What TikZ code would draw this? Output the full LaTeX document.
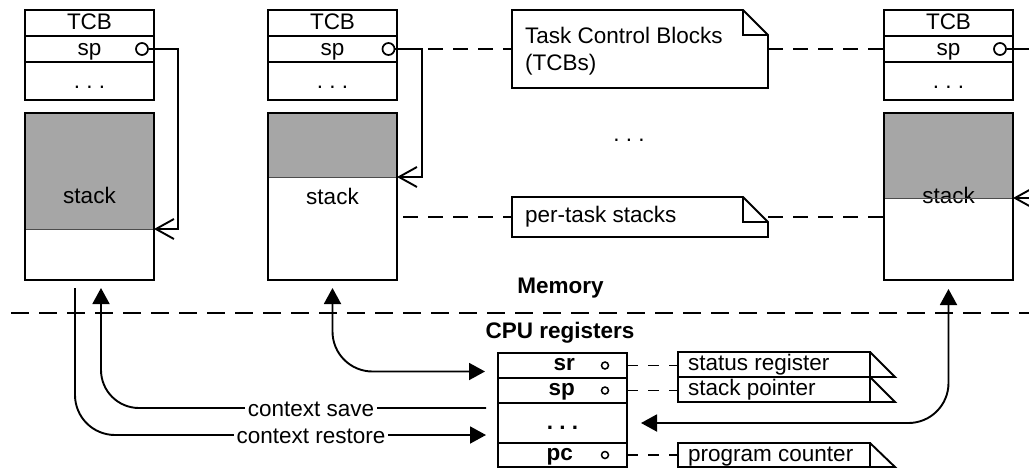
\documentclass[tikz,border=0pt]{standalone}
\usepackage{fontspec}
\setmainfont{Liberation Sans}
\usetikzlibrary{arrows.meta,calc}
\definecolor{stackgray}{HTML}{A6A6A6}
\tikzset{fattri/.tip={Triangle[length=16pt,width=17pt]}}
\begin{document}
\begin{tikzpicture}[x=1pt,y=-1pt,
  every node/.style={font=\fontsize{22.5}{27}\selectfont},
  lw/.style={line width=1.9pt},
  row/.style={draw, line width=1.9pt, minimum width=129pt, inner sep=0pt, outer sep=0pt,
    anchor=north west, text height=17pt, text depth=3pt},
  stackbox/.style={minimum width=129pt, minimum height=167pt, inner sep=0pt, outer sep=0pt, anchor=north west},
  regrow/.style={draw, line width=1.9pt, minimum width=129pt, inner sep=0pt, outer sep=0pt, anchor=north west},
  spcirc/.style={circle, draw, line width=1.7pt, fill=white, minimum size=12pt, inner sep=0pt},
  regcirc/.style={circle, draw, line width=1.5pt, fill=white, minimum size=7pt, inner sep=0pt},
  barb/.style={lw, -{Straight Barb[length=18pt,width=20pt]}},
  longdash/.style={line width=1.9pt, dash pattern=on 15pt off 10pt},
  divider/.style={line width=1.9pt, dash pattern=on 18pt off 10pt},
  regdash/.style={line width=1.9pt, dash pattern=on 11pt off 10pt},
  lbl/.style={fill=white, inner xsep=3pt, inner ysep=1pt, anchor=base},
  bold/.style={font=\fontsize{22.5}{27}\selectfont\bfseries},
]
\useasboundingbox (0,0) rectangle (1029,471);

% ---------- left task ----------
\node[row, minimum height=26pt] (lT) at (25,10) {TCB};
\node[row, minimum height=26pt] (lsp) at (25,36) {sp};
\node[row, minimum height=38pt] (ld) at (25,62) {.\ .\ .};
\node[stackbox] (lstack) at (25,113) {};
\fill[stackgray] (lstack.north west) rectangle ($(lstack.north east)+(0,116)$);
\draw[line width=0.8pt, gray!60!black] ($(lstack.north west)+(0,116)$) -- ($(lstack.north east)+(0,116)$);
\draw[lw] (lstack.north west) rectangle (lstack.south east);
\node[anchor=base] at ($(lstack.north)+(0,90)$) {stack};
\node[spcirc] (lc) at (142,49) {};
\coordinate (lsb) at ($(lstack.north east)+(0,116)$);
\draw[barb] (lc.east) -- ++(29.5,0) |- (lsb);

% ---------- middle task ----------
\node[row, minimum height=26pt] (mT) at (268,10) {TCB};
\node[row, minimum height=26pt] (msp) at (268,36) {sp};
\node[row, minimum height=38pt] (md) at (268,62) {.\ .\ .};
\node[stackbox] (mstack) at (268,113) {};
\fill[stackgray] (mstack.north west) rectangle ($(mstack.north east)+(0,64)$);
\draw[line width=0.8pt, gray!60!black] ($(mstack.north west)+(0,64)$) -- ($(mstack.north east)+(0,64)$);
\draw[lw] (mstack.north west) rectangle (mstack.south east);
\node[anchor=base] at ($(mstack.north)+(0,91)$) {stack};
\node[spcirc] (mc) at (388.5,49) {};
\coordinate (msb) at ($(mstack.north east)+(0,64)$);
\draw[barb] (mc.east) -- ++(27,0) |- (msb);

% ---------- right task ----------
\node[row, minimum height=26pt] (rT) at (884,10) {TCB};
\node[row, minimum height=26pt] (rsp) at (884,36) {sp};
\node[row, minimum height=38pt] (rd) at (884,62) {.\ .\ .};
\node[stackbox] (rstack) at (884,113) {};
\fill[stackgray] (rstack.north west) rectangle ($(rstack.north east)+(0,85)$);
\node[anchor=base] at ($(rstack.north)+(0,90)$) {stack};
\draw[line width=0.8pt, gray!60!black] ($(rstack.north west)+(0,85)$) -- ($(rstack.north east)+(0,85)$);
\draw[lw] (rstack.north west) rectangle (rstack.south east);
\node[spcirc] (rc) at (1000,49) {};
\coordinate (rsb) at ($(rstack.north east)+(0,85)$);
\draw[barb] (rc.east) -- ++(34,0) |- (rsb);

% ---------- notes ----------
\node[minimum width=256pt, minimum height=78pt, inner sep=0pt, outer sep=0pt, anchor=north west] (n1) at (512,10) {};
\draw[lw, line join=miter] (n1.north west) -- ($(n1.north west)+(231,0)$) -- ($(n1.north east)+(0,25)$) -- (n1.south east) -- (n1.south west) -- cycle;
\draw[lw] ($(n1.north west)+(231,0)$) |- ($(n1.north east)+(0,25)$);
\node[anchor=base west, inner sep=0pt] at ($(n1.north west)+(13,33)$) {Task Control Blocks};
\node[anchor=base west, inner sep=0pt] at ($(n1.north west)+(13,60)$) {(TCBs)};

\node[minimum width=256pt, minimum height=40pt, inner sep=0pt, outer sep=0pt, anchor=north west] (n2) at (512,197) {};
\draw[lw, line join=miter] (n2.north west) -- ($(n2.north west)+(231,0)$) -- ($(n2.north east)+(0,25)$) -- (n2.south east) -- (n2.south west) -- cycle;
\draw[lw] ($(n2.north west)+(231,0)$) |- ($(n2.north east)+(0,25)$);
\node[anchor=base west, inner sep=0pt] at ($(n2.north west)+(13,25)$) {per-task stacks};

\draw[longdash] ($(mc.east)+(33,0)$) -- (n1.west);
\draw[longdash] (n1.east) -- (rsp.west);
\draw[longdash] ($(mstack.east |- n2.west)+(6,0)$) -- (n2.west);
\draw[longdash] (n2.east) -- (n2.east -| rstack.west);

\node at (629,140) {.\ .\ .};

% ---------- divider ----------
\node[anchor=base, bold] at (560.5,293) {Memory};
\draw[divider] (11,313) -- (1029,313);
\node[anchor=base, bold] at (560,338) {CPU registers};

% ---------- registers ----------
\node[regrow, minimum height=25pt] (rsr) at (498,353) {};
\node[regrow, minimum height=25pt] (rspr) at (498,378) {};
\node[regrow, minimum height=40pt] (rdots) at (498,403) {};
\node[regrow, minimum height=24pt] (rpc) at (498,443) {};
\node[anchor=base east, inner sep=0pt, bold] at ($(rsr.west)+(77,5)$) {sr};
\node[anchor=base east, inner sep=0pt, bold] at ($(rspr.west)+(77,5)$) {sp};
\node[anchor=base east, inner sep=0pt, bold] at ($(rpc.west)+(75,5)$) {pc};
\node[anchor=base, inner sep=0pt, bold] at ($(rdots.center)+(0,6)$) {.\ .\ .};
\node[regcirc] (csr) at ($(rsr.west)+(107,0)$) {};
\node[regcirc] (cspr) at ($(rspr.west)+(107,0)$) {};
\node[regcirc] (cpc) at ($(rpc.west)+(107,0)$) {};

% register notes
\foreach \nm/\yy/\hh/\txt in {nsr/352/25/status register, nsp/377/25/stack pointer, npc/443/24/program counter}{
  \node[minimum width=192pt, minimum height=\hh pt, inner sep=0pt, outer sep=0pt, anchor=north west] (\nm) at (678,\yy) {};
  \draw[lw, line join=miter] (\nm.north west) rectangle (\nm.south east);
  \draw[lw, line join=miter] (\nm.north east) -- ($(\nm.south east)+(25,0)$) -- (\nm.south east);
  \node[anchor=base west, inner sep=0pt] at ($(\nm.north west)+(10,18)$) {\txt};
}
\draw[regdash] (rsr.east) -- (nsr.west |- rsr.east);
\draw[regdash] (rspr.east) -- (nsp.west |- rspr.east);
\draw[regdash] (rpc.east) -- (npc.west |- rpc.east);

% ---------- context switch arrows ----------
\draw[lw, fattri-fattri, rounded corners=40pt] ($(mstack.south)+(0,8)$) |- ($(rsr.west)+(-13,6)$);
\draw[lw, fattri-fattri, rounded corners=40pt] ($(rstack.south)+(0,9)$) |- ($(rdots.east)+(14,0)$);
\draw[lw, -fattri, rounded corners=40pt] ($(lstack.south)+(-14.5,8)$) |- ($(rdots.west)+(-12,12)$);
\draw[lw, -fattri, rounded corners=38pt] ($(rdots.west)+(-12,-15)$) -| ($(lstack.south)+(11.5,8)$);
\node[lbl] at (311,416) {context save};
\node[lbl] at (311,443) {context restore};
\end{tikzpicture}
\end{document}
